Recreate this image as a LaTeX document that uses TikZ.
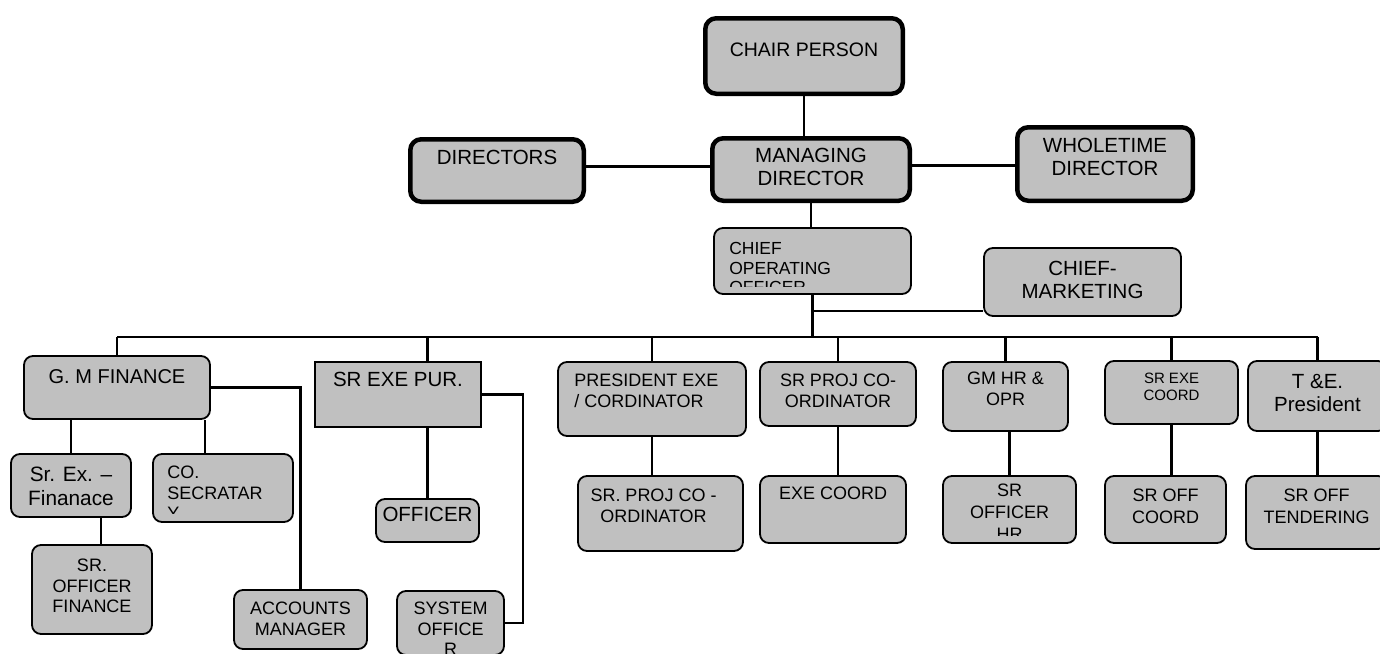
\documentclass[tikz,border=0pt]{standalone}
\usepackage{fontspec}
\setmainfont{Liberation Sans}
\usetikzlibrary{positioning}
\definecolor{boxgray}{HTML}{C0C0C0}

\tikzset{
  post/.style={draw=black, line width=1.8pt, fill=boxgray, rounded corners=9pt, inner sep=0pt},
  toppost/.style={post, line width=4.5pt, rounded corners=11pt},
  flatpost/.style={post, sharp corners},
  tag/.style={inner sep=0pt, align=center},
  link/.style={line width=2.6pt},
  txtbig/.style={font=\fontsize{20.5}{23}\selectfont},
  txtmid/.style={font=\fontsize{18}{20.5}\selectfont},
}

\begin{document}
\begin{tikzpicture}[x=1pt, y=-1pt]
  \clip (0,0) rectangle (1380,653);

  % board level
  \node[toppost, minimum width=197.5pt, minimum height=75.5pt] (chair) at (804,56) {};
  \node[toppost, minimum width=173.5pt, minimum height=62.5pt] (dirs) at (497,170.5) {};
  \node[toppost, minimum width=197.5pt, minimum height=62.5pt] (md) at (811,169.5) {};
  \node[toppost, minimum width=175.5pt, minimum height=73.5pt] (whole) at (1105,164) {};
  \node[tag, font=\fontsize{19.5}{22}\selectfont, below=26.5pt of chair.north] (chair-t) {CHAIR PERSON};
  \node[tag, txtbig, below=12.5pt of dirs.north] (dirs-t) {DIRECTORS};
  \node[tag, txtbig, below=11.5pt of md.north] (md-t) {MANAGING\\DIRECTOR};
  \node[tag, txtbig, below=12.5pt of whole.north] (whole-t) {WHOLETIME\\DIRECTOR};

  % operations
  \node[post, minimum width=197pt, minimum height=66pt] (coo) at (812.5,261) {};
  \node[post, minimum width=197pt, minimum height=68pt] (mkt) at (1082.5,282) {};
  \begin{scope}
    \clip ([xshift=2pt,yshift=8pt]coo.south west) rectangle ([xshift=-2pt,yshift=-2pt]coo.north east);
    \node[tag, align=left, font=\fontsize{17.5}{19.5}\selectfont, below right=15pt and 16pt of coo.north west] (coo-t) {CHIEF\\OPERATING\\OFFICER};
  \end{scope}
  \node[tag, txtbig, below=14pt of mkt.north] (mkt-t) {CHIEF-\\MARKETING};

  % heads of department
  \node[post, minimum width=186pt, minimum height=63pt] (gm) at (117,387.5) {};
  \node[flatpost, minimum width=166pt, minimum height=65pt] (pur) at (398,394.5) {};
  \node[post, minimum width=188pt, minimum height=74pt] (pres) at (652,399) {};
  \node[post, minimum width=156pt, minimum height=64pt] (sproj) at (838,394) {};
  \node[post, minimum width=125pt, minimum height=69pt] (gmhr) at (1005.5,396.5) {};
  \node[post, minimum width=133pt, minimum height=63pt] (srexe) at (1171.5,392.5) {};
  \node[post, minimum width=139pt, minimum height=70pt] (te) at (1317.5,396) {};
  \node[tag, font=\fontsize{20}{23}\selectfont, below=14pt of gm.north] (gm-t) {G. M FINANCE};
  \node[tag, txtbig, below=11pt of pur.north] (pur-t) {SR EXE PUR.};
  \node[tag, txtmid, align=left, below right=13pt and 17pt of pres.north west] (pres-t) {PRESIDENT EXE\\/ CORDINATOR};
  \node[tag, txtmid, below=13pt of sproj.north] (sproj-t) {SR PROJ CO-\\ORDINATOR};
  \node[tag, txtmid, below=11pt of gmhr.north] (gmhr-t) {GM HR \&\\OPR};
  \node[tag, font=\fontsize{15}{17}\selectfont, below=13pt of srexe.north] (srexe-t) {SR EXE\\COORD};
  \node[tag, txtbig, below=14pt of te.north] (te-t) {T \&E.\\President};

  % staff
  \node[post, minimum width=120pt, minimum height=63pt] (srex) at (71,485.5) {};
  \node[post, minimum width=140pt, minimum height=68pt] (cosec) at (223,488) {};
  \node[post, minimum width=120pt, minimum height=89pt] (srofin) at (92,589.5) {};
  \node[post, minimum width=133pt, minimum height=59pt] (acc) at (300.5,619.5) {};
  \node[post, minimum width=103pt, minimum height=43pt] (officer) at (427.5,520.5) {};
  \node[post, minimum width=107pt, minimum height=64pt] (sysoff) at (450.5,623) {};
  \node[post, minimum width=165pt, minimum height=75pt] (sprojco) at (660.5,513.5) {};
  \node[post, minimum width=146pt, minimum height=67pt] (execo) at (833,509.5) {};
  \node[post, minimum width=133pt, minimum height=67pt] (srhr) at (1009.5,509.5) {};
  \node[post, minimum width=121pt, minimum height=67pt] (srco) at (1165.5,509.5) {};
  \node[post, minimum width=141pt, minimum height=73pt] (srten) at (1316.5,512.5) {};
  \node[tag, font=\fontsize{20.8}{24}\selectfont, below=14pt of srex.north] (srex-t) {Sr. Ex. --\\Finanace};
  \begin{scope}
    \clip ([xshift=2pt,yshift=9pt]cosec.south west) rectangle ([xshift=-2pt,yshift=-2pt]cosec.north east);
    \node[tag, txtmid, align=left, below right=13pt and 15pt of cosec.north west] (cosec-t) {CO.\\SECRATAR\\Y};
  \end{scope}
  \node[tag, txtmid, below=15pt of srofin.north] (srofin-t) {SR.\\OFFICER\\FINANCE};
  \node[tag, txtmid, below=13pt of acc.north] (acc-t) {ACCOUNTS\\MANAGER};
  \node[tag, txtbig, below=9pt of officer.north] (officer-t) {OFFICER};
  \node[tag, txtmid, below=12pt of sysoff.north] (sysoff-t) {SYSTEM\\OFFICE\\R};
  \node[tag, font=\fontsize{18}{21}\selectfont, below=14pt of sprojco.north, xshift=-7pt] (sprojco-t) {SR. PROJ CO -\\ORDINATOR};
  \node[tag, txtmid, below=12pt of execo.north] (execo-t) {EXE COORD};
  \begin{scope}
    \clip ([xshift=2pt,yshift=8pt]srhr.south west) rectangle ([xshift=-2pt,yshift=-2pt]srhr.north east);
    \node[tag, font=\fontsize{18}{22}\selectfont, below=9pt of srhr.north] (srhr-t) {SR\\OFFICER\\HR};
  \end{scope}
  \node[tag, font=\fontsize{18}{22}\selectfont, below=14pt of srco.north] (srco-t) {SR OFF\\COORD};
  \node[tag, font=\fontsize{18}{22}\selectfont, below=14pt of srten.north] (srten-t) {SR OFF\\TENDERING};

  % connectors
  \coordinate (bus) at (0,337);
  \coordinate (purjog) at (523,0);
  \draw[link] (chair.south) -- (chair.south |- md.north);
  \draw[link] ([yshift=4pt]dirs.east) -- ([yshift=4pt]dirs.east -| md.west);
  \draw[link] ([yshift=4pt]md.east) -- ([yshift=4pt]md.east -| whole.west);
  \draw[link] (md.south) -- (md.south |- coo.north);
  \draw[link] (coo.south) -- (coo.south |- bus);
  \draw[link] ([yshift=6pt]mkt.south west) -- ([yshift=6pt]mkt.south west -| coo.south);
  \draw[link] (gm.north |- bus) -- (te.north |- bus);
  \draw[link] (gm.north |- bus) -- (gm.north);
  \draw[link] (officer.north |- bus) -- (officer.north |- pur.north);
  \draw[link] (pres.north |- bus) -- (pres.north);
  \draw[link] (sproj.north |- bus) -- (sproj.north);
  \draw[link] (gmhr.north |- bus) -- (gmhr.north);
  \draw[link] (srexe.north |- bus) -- (srexe.north);
  \draw[link] (te.north |- bus) -- (te.north);
  \draw[link] (srex.north |- gm.south) -- (srex.north);
  \draw[link] ([xshift=-6pt]gm.south east) -- ([xshift=-6pt]gm.south east |- cosec.north);
  \draw[link] ([xshift=9pt]srofin.north) -- ([xshift=9pt]srofin.north |- srex.south);
  \draw[link] (gm.east) -| (acc.north);
  \draw[link] (officer.north) -- (officer.north |- pur.south);
  \draw[link] (pur.east) -| (purjog |- sysoff.east) -- (sysoff.east);
  \draw[link] (pres.south) -- (pres.south |- sprojco.north);
  \draw[link] (sproj.south) -- (sproj.south |- execo.north);
  \draw[link] (srhr.north) -- (srhr.north |- gmhr.south);
  \draw[link] (srexe.south) -- (srexe.south |- srco.north);
  \draw[link] (te.south) -- (te.south |- srten.north);
\end{tikzpicture}
\end{document}
